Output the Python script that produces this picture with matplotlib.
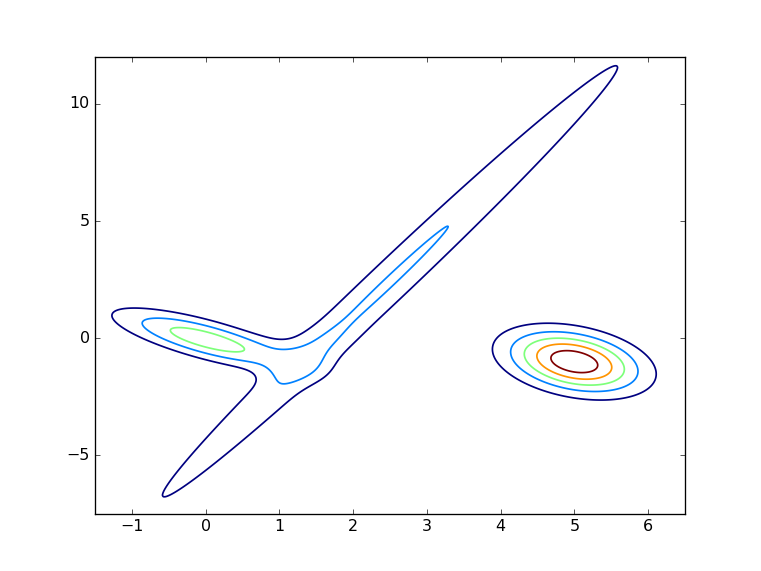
import numpy as np
import matplotlib
matplotlib.use("Agg")
import matplotlib.pyplot as plt

plt.style.use("classic")

# mixture components (peak heights in units of the contour step)
means = [
    [5.0, -1.0],    # round blob on the right
    [0.0, -0.05],   # left lobe
    [2.5, 2.43],    # long diagonal arm
    [1.2, -0.2],    # junction
]
covs = [
    [[0.352, -0.168], [-0.168, 0.767]],
    [[0.632, -0.506], [-0.506, 0.698]],
    [[6.42, 18.99], [18.99, 57.07]],
    [[0.20, 0.05], [0.05, 0.30]],
]
heights = [5.77, 3.6, 2.1, 0.3]
levels = [1, 2, 3, 4, 5]

x_range = [-1.5, 6.5]
y_range = [-7.5, 12.0]

x = np.linspace(x_range[0], x_range[1], 500)
y = np.linspace(y_range[0], y_range[1], 500)
X, Y = np.meshgrid(x, y)

Z = np.zeros_like(X)
for m, c, h in zip(means, covs, heights):
    inv = np.linalg.inv(np.array(c))
    dx = X - m[0]
    dy = Y - m[1]
    q = inv[0, 0] * dx ** 2 + 2 * inv[0, 1] * dx * dy + inv[1, 1] * dy ** 2
    Z += h * np.exp(-0.5 * q)

fig = plt.figure(figsize=(761 / 95, 571 / 95), dpi=95)
ax = fig.add_subplot(111)
ax.contour(X, Y, Z, levels=levels, cmap="jet", linewidths=1.3)
ax.set_xlim(x_range)
ax.set_ylim(y_range)
ax.set_xticks(range(-1, 7))
ax.set_yticks([-5, 0, 5, 10])

fig.savefig("out.png", dpi=95)
